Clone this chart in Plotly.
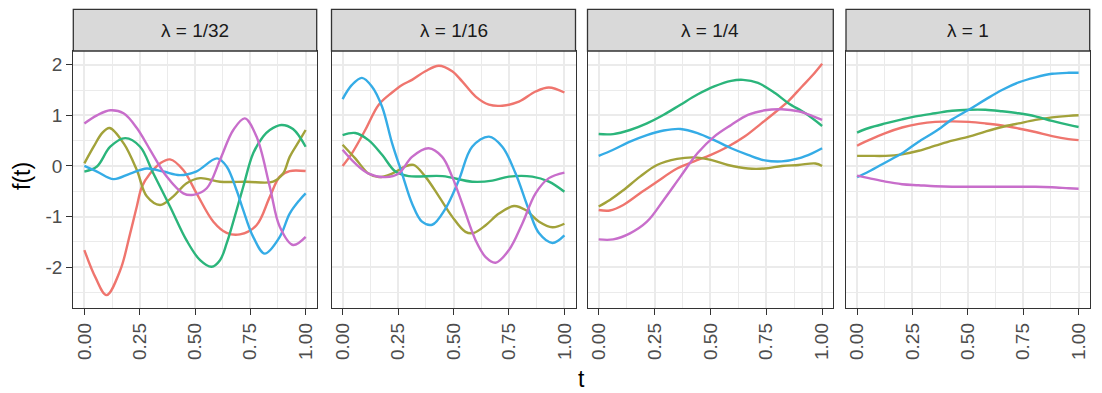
import plotly.graph_objects as go

# ---------------- data ----------------
PANEL_TITLES = ["λ = 1/32", "λ = 1/16", "λ = 1/4", "λ = 1"]
X_TICKS = [0, 0.25, 0.5, 0.75, 1.0]
X_TICK_TEXT = ["0.00", "0.25", "0.50", "0.75", "1.00"]
Y_TICKS = [-2, -1, 0, 1, 2]
Y_TICK_TEXT = ["-2", "-1", "0", "1", "2"]
SERIES_COLORS = ["#EF756E", "#A2A23A", "#2BB57B", "#35ACE6", "#C86ECB"]

# lambda = 1/32
p1_red_t = [0, 0.05, 0.1, 0.162, 0.207, 0.237, 0.26, 0.297, 0.342, 0.387, 0.447, 0.507, 0.583, 0.643, 0.703, 0.778, 0.838, 0.883, 0.928, 1.0]
p1_red_f = [-1.66, -2.2, -2.55, -2.06, -1.33, -0.8, -0.41, -0.15, 0.05, 0.13, -0.08, -0.54, -1.1, -1.32, -1.35, -1.17, -0.61, -0.21, -0.1, -0.1]
p1_olive_t = [0, 0.042, 0.08, 0.114, 0.177, 0.237, 0.282, 0.342, 0.402, 0.462, 0.523, 0.613, 0.733, 0.853, 0.898, 0.928, 0.973, 1.0]
p1_olive_f = [0.05, 0.38, 0.65, 0.75, 0.45, -0.08, -0.6, -0.77, -0.6, -0.34, -0.24, -0.31, -0.31, -0.31, -0.15, 0.18, 0.51, 0.71]
p1_green_t = [0, 0.057, 0.117, 0.185, 0.252, 0.312, 0.387, 0.462, 0.523, 0.575, 0.613, 0.643, 0.688, 0.718, 0.763, 0.808, 0.838, 0.89, 0.943, 1.0]
p1_green_f = [-0.11, -0.01, 0.38, 0.55, 0.38, -0.15, -0.8, -1.47, -1.86, -1.99, -1.86, -1.53, -0.87, -0.41, 0.25, 0.58, 0.71, 0.81, 0.73, 0.38]
p1_blue_t = [0, 0.057, 0.132, 0.207, 0.282, 0.357, 0.432, 0.505, 0.6, 0.643, 0.688, 0.718, 0.763, 0.815, 0.883, 0.928, 0.973, 1.0]
p1_blue_f = [0.0, -0.11, -0.26, -0.15, -0.05, -0.11, -0.18, -0.11, 0.15, -0.01, -0.48, -0.87, -1.4, -1.73, -1.4, -0.94, -0.67, -0.54]
p1_purple_t = [0, 0.057, 0.117, 0.177, 0.237, 0.297, 0.372, 0.447, 0.492, 0.553, 0.613, 0.673, 0.725, 0.778, 0.838, 0.883, 0.943, 1.0]
p1_purple_f = [0.84, 1.0, 1.1, 1.04, 0.75, 0.32, -0.21, -0.54, -0.57, -0.44, 0.12, 0.71, 0.94, 0.58, -0.41, -1.2, -1.56, -1.4]

# lambda = 1/16
p2_red_t = [0, 0.042, 0.102, 0.163, 0.223, 0.268, 0.313, 0.373, 0.434, 0.494, 0.539, 0.6, 0.66, 0.72, 0.795, 0.87, 0.93, 1.0]
p2_red_f = [0.0, 0.25, 0.71, 1.21, 1.45, 1.6, 1.7, 1.87, 1.98, 1.87, 1.67, 1.37, 1.21, 1.19, 1.27, 1.47, 1.55, 1.45]
p2_olive_t = [0, 0.057, 0.117, 0.163, 0.223, 0.283, 0.32, 0.373, 0.434, 0.494, 0.554, 0.592, 0.645, 0.705, 0.773, 0.825, 0.886, 0.946, 1.0]
p2_olive_f = [0.42, 0.15, -0.15, -0.22, -0.15, -0.01, 0.02, -0.21, -0.6, -1.0, -1.3, -1.32, -1.17, -0.94, -0.79, -0.87, -1.1, -1.21, -1.14]
p2_green_t = [0, 0.057, 0.117, 0.178, 0.238, 0.298, 0.45, 0.584, 0.675, 0.75, 0.855, 0.93, 1.0]
p2_green_f = [0.61, 0.65, 0.51, 0.22, -0.11, -0.2, -0.2, -0.31, -0.29, -0.21, -0.21, -0.31, -0.51]
p2_blue_t = [0, 0.042, 0.087, 0.132, 0.178, 0.223, 0.268, 0.313, 0.358, 0.404, 0.464, 0.524, 0.584, 0.66, 0.72, 0.78, 0.84, 0.886, 0.946, 1.0]
p2_blue_f = [1.32, 1.6, 1.74, 1.57, 1.17, 0.45, -0.15, -0.74, -1.1, -1.16, -0.84, -0.28, 0.38, 0.58, 0.38, -0.15, -0.87, -1.33, -1.52, -1.37]
p2_purple_t = [0, 0.057, 0.117, 0.193, 0.253, 0.313, 0.388, 0.449, 0.494, 0.539, 0.6, 0.645, 0.69, 0.75, 0.81, 0.87, 0.93, 1.0]
p2_purple_f = [0.32, 0.05, -0.15, -0.22, -0.15, 0.18, 0.35, 0.18, -0.21, -0.74, -1.47, -1.8, -1.91, -1.66, -1.14, -0.54, -0.24, -0.13]

# lambda = 1/4
p3_red_t = [0, 0.05, 0.11, 0.185, 0.261, 0.351, 0.427, 0.502, 0.578, 0.653, 0.728, 0.804, 0.849, 0.91, 0.955, 1.0]
p3_red_f = [-0.87, -0.88, -0.77, -0.54, -0.31, -0.05, 0.09, 0.22, 0.38, 0.58, 0.84, 1.11, 1.28, 1.57, 1.78, 2.02]
p3_olive_t = [0, 0.05, 0.11, 0.185, 0.261, 0.351, 0.427, 0.502, 0.578, 0.668, 0.744, 0.82, 0.894, 0.97, 1.0]
p3_olive_f = [-0.8, -0.67, -0.48, -0.21, 0.02, 0.14, 0.17, 0.12, 0.02, -0.05, -0.05, 0.0, 0.02, 0.05, 0.0]
p3_green_t = [0, 0.065, 0.14, 0.216, 0.291, 0.366, 0.442, 0.517, 0.593, 0.646, 0.713, 0.789, 0.849, 0.925, 1.0]
p3_green_f = [0.63, 0.63, 0.71, 0.84, 1.01, 1.21, 1.41, 1.57, 1.68, 1.7, 1.64, 1.44, 1.24, 1.04, 0.79]
p3_blue_t = [0, 0.065, 0.14, 0.216, 0.291, 0.366, 0.442, 0.517, 0.593, 0.668, 0.744, 0.819, 0.894, 0.955, 1.0]
p3_blue_f = [0.2, 0.32, 0.48, 0.61, 0.7, 0.73, 0.65, 0.51, 0.35, 0.22, 0.11, 0.09, 0.15, 0.25, 0.35]
p3_purple_t = [0, 0.065, 0.14, 0.216, 0.291, 0.366, 0.442, 0.517, 0.593, 0.668, 0.744, 0.819, 0.894, 0.955, 1.0]
p3_purple_f = [-1.45, -1.45, -1.33, -1.1, -0.67, -0.21, 0.25, 0.58, 0.81, 1.01, 1.1, 1.12, 1.08, 0.99, 0.91]

# lambda = 1
p4_t = [0, 0.053, 0.128, 0.203, 0.278, 0.353, 0.429, 0.504, 0.579, 0.654, 0.729, 0.805, 0.88, 0.955, 1.0]
p4_red_f = [0.4, 0.51, 0.65, 0.76, 0.83, 0.87, 0.88, 0.87, 0.84, 0.8, 0.74, 0.67, 0.59, 0.53, 0.51]
p4_olive_f = [0.2, 0.2, 0.2, 0.23, 0.3, 0.4, 0.5, 0.58, 0.68, 0.77, 0.84, 0.91, 0.96, 0.99, 1.0]
p4_green_f = [0.66, 0.75, 0.84, 0.92, 0.99, 1.04, 1.09, 1.11, 1.11, 1.08, 1.04, 0.98, 0.89, 0.81, 0.77]
p4_blue_f = [-0.22, -0.11, 0.07, 0.25, 0.48, 0.68, 0.92, 1.11, 1.31, 1.5, 1.65, 1.75, 1.82, 1.84, 1.84]
p4_purple_f = [-0.19, -0.24, -0.31, -0.36, -0.38, -0.4, -0.41, -0.41, -0.41, -0.41, -0.41, -0.41, -0.42, -0.44, -0.45]

panels = [
    [(p1_red_t, p1_red_f), (p1_olive_t, p1_olive_f), (p1_green_t, p1_green_f), (p1_blue_t, p1_blue_f), (p1_purple_t, p1_purple_f)],
    [(p2_red_t, p2_red_f), (p2_olive_t, p2_olive_f), (p2_green_t, p2_green_f), (p2_blue_t, p2_blue_f), (p2_purple_t, p2_purple_f)],
    [(p3_red_t, p3_red_f), (p3_olive_t, p3_olive_f), (p3_green_t, p3_green_f), (p3_blue_t, p3_blue_f), (p3_purple_t, p3_purple_f)],
    [(p4_t, p4_red_f), (p4_t, p4_olive_f), (p4_t, p4_green_f), (p4_t, p4_blue_f), (p4_t, p4_purple_f)],
]

# ---------------- layout ----------------
W, H = 1102, 393
PANEL_X = [(73.3, 316.7), (331.5, 575.5), (587.5, 833.3), (846.0, 1089.7)]
PLOT_TOP, PLOT_BOTTOM = 51.0, 308.3
STRIP_TOP = 9.3
BORDER = "#333333"
GRID = "#EBEBEB"
FONT = "Liberation Sans"

def px_x(v):
    return v / W

def px_y(v):
    return (H - v) / H

fig = go.Figure()
layout = dict(
    width=W, height=H,
    margin=dict(l=0, r=0, t=0, b=0),
    paper_bgcolor="white", plot_bgcolor="white",
    showlegend=False,
    font=dict(family=FONT, color="#4D4D4D"),
)

shapes = []
annotations = []
for i, series in enumerate(panels):
    n = "" if i == 0 else str(i + 1)
    for (t, f), col in zip(series, SERIES_COLORS):
        fig.add_trace(go.Scatter(
            x=t, y=f, mode="lines",
            line=dict(color=col, width=2.4, shape="spline", smoothing=1.0),
            xaxis="x" + n, yaxis="y" + n, hoverinfo="skip",
        ))
    x0, x1 = PANEL_X[i]
    layout["xaxis" + n] = dict(
        domain=[px_x(x0), px_x(x1)], range=[-0.05, 1.05], anchor="y" + n,
        tickvals=X_TICKS, ticktext=X_TICK_TEXT, tickangle=-90,
        ticks="outside", ticklen=6, tickcolor=BORDER, tickwidth=1.1,
        tickfont=dict(size=19, color="#4D4D4D", family=FONT),
        showgrid=True, gridcolor=GRID, gridwidth=1.6,
        minor=dict(dtick=0.125, tick0=0, showgrid=True, gridcolor=GRID, gridwidth=0.9, ticks=""),
        showline=True, linecolor=BORDER, linewidth=1.3, mirror=True,
        zeroline=False, fixedrange=True,
    )
    layout["yaxis" + n] = dict(
        domain=[px_y(PLOT_BOTTOM), px_y(PLOT_TOP)], range=[-2.81, 2.27], anchor="x" + n,
        tickvals=Y_TICKS, ticktext=Y_TICK_TEXT,
        ticks="outside" if i == 0 else "", ticklen=6, tickcolor=BORDER, tickwidth=1.1,
        showticklabels=(i == 0),
        tickfont=dict(size=19, color="#4D4D4D", family=FONT),
        showgrid=True, gridcolor=GRID, gridwidth=1.6,
        minor=dict(dtick=0.5, tick0=0.5, showgrid=True, gridcolor=GRID, gridwidth=0.9, ticks=""),
        showline=True, linecolor=BORDER, linewidth=1.3, mirror=True,
        zeroline=False, fixedrange=True,
    )
    # facet strip
    shapes.append(dict(
        type="rect", xref="paper", yref="paper",
        x0=px_x(x0), x1=px_x(x1), y0=px_y(PLOT_TOP), y1=px_y(STRIP_TOP),
        fillcolor="#D9D9D9", line=dict(color=BORDER, width=1.3), layer="above",
    ))
    annotations.append(dict(
        text=PANEL_TITLES[i], xref="paper", yref="paper",
        x=px_x((x0 + x1) / 2), y=px_y((STRIP_TOP + PLOT_TOP) / 2),
        showarrow=False, xanchor="center", yanchor="middle",
        font=dict(size=19, color="#1A1A1A", family=FONT),
    ))

annotations.append(dict(
    text="t", xref="paper", yref="paper", x=px_x(581.5), y=px_y(378.5),
    showarrow=False, xanchor="center", yanchor="middle",
    font=dict(size=23, color="#000000", family=FONT),
))
annotations.append(dict(
    text="f(t)", xref="paper", yref="paper", x=px_x(22), y=px_y(176),
    showarrow=False, xanchor="center", yanchor="middle", textangle=-90,
    font=dict(size=23, color="#000000", family=FONT),
))

layout["shapes"] = shapes
layout["annotations"] = annotations
fig.update_layout(**layout)
fig.write_html("out.html")
